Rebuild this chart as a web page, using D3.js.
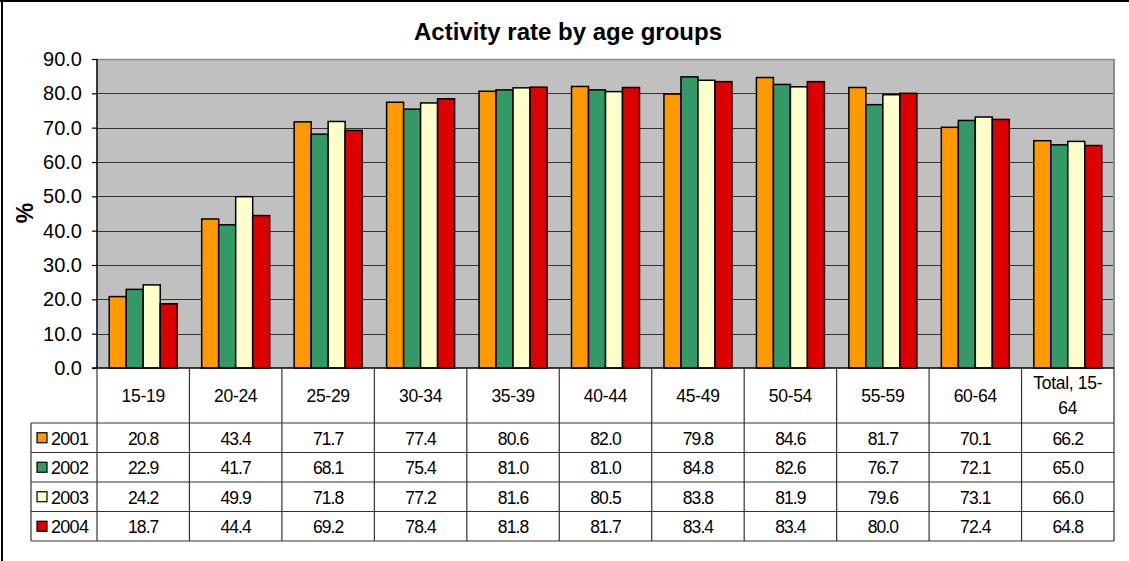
<!DOCTYPE html>
<html><head><meta charset="utf-8">
<script src="https://cdn.jsdelivr.net/npm/d3@7"></script>
<style>
html,body{margin:0;padding:0;background:#fff;}
svg{display:block;font-family:Arial,"Liberation Sans",sans-serif;}
</style></head>
<body>
<svg id="c" width="1129" height="561"></svg>
<script>
const categories = ["15-19","20-24","25-29","30-34","35-39","40-44","45-49","50-54","55-59","60-64","Total, 15-64"];
const headerLines = [["15-19"],["20-24"],["25-29"],["30-34"],["35-39"],["40-44"],["45-49"],["50-54"],["55-59"],["60-64"],["Total, 15-","64"]];
const seriesNames = ["2001","2002","2003","2004"];
const v2001 = [20.8,43.4,71.7,77.4,80.6,82.0,79.8,84.6,81.7,70.1,66.2];
const v2002 = [22.9,41.7,68.1,75.4,81.0,81.0,84.8,82.6,76.7,72.1,65.0];
const v2003 = [24.2,49.9,71.8,77.2,81.6,80.5,83.8,81.9,79.6,73.1,66.0];
const v2004 = [18.7,44.4,69.2,78.4,81.8,81.7,83.4,83.4,80.0,72.4,64.8];
const seriesValues = [v2001,v2002,v2003,v2004];
const colors = ["#FF9900","#339966","#FFFFCC","#DD0000"];
const yTicks = [0,10,20,30,40,50,60,70,80,90];

const svg = d3.select("#c");
const L=97, R=1114, T=59, B=368;
const tableLeft=31, headerBottom=423, tableBottom=541;

// outer frame
svg.append("line").attr("x1",0).attr("x2",1129).attr("y1",1).attr("y2",1).attr("stroke","#000").attr("stroke-width",2);
svg.append("line").attr("x1",2).attr("x2",2).attr("y1",0).attr("y2",561).attr("stroke","#000").attr("stroke-width",2);

const x = d3.scaleBand().domain(categories).range([L,R]).padding(0);
const xs = d3.scaleBand().domain(seriesNames).range([0,x.bandwidth()]).paddingOuter(0.72).paddingInner(0);
const y = d3.scaleLinear().domain([0,90]).range([B,T]);

// plot background
svg.append("rect").attr("x",L).attr("y",T).attr("width",R-L).attr("height",B-T).attr("fill","#C0C0C0");
// gridlines
svg.append("g").selectAll("line").data(yTicks.filter(d=>d>0 && d<90)).join("line")
  .attr("x1",L).attr("x2",R).attr("y1",d=>Math.round(y(d))+0.5).attr("y2",d=>Math.round(y(d))+0.5)
  .attr("stroke","#333").attr("stroke-width",1);
// top & right border of plot
svg.append("line").attr("x1",L).attr("x2",R).attr("y1",T+0.5).attr("y2",T+0.5).attr("stroke","#8c8c8c").attr("stroke-width",1.5);
svg.append("line").attr("x1",R).attr("x2",R).attr("y1",T).attr("y2",B).attr("stroke","#8c8c8c").attr("stroke-width",2);

// bars
const g = svg.append("g");
seriesNames.forEach((s,si)=>{
  g.append("g").selectAll("rect").data(categories).join("rect")
    .attr("x",c=>x(c)+xs(s))
    .attr("width",xs.bandwidth())
    .attr("y",(c,i)=>y(seriesValues[si][i]))
    .attr("height",(c,i)=>B-y(seriesValues[si][i]))
    .attr("fill",colors[si]).attr("stroke","#000").attr("stroke-width",1.5);
});

// y axis
const yAxis = d3.axisLeft(y).tickValues(yTicks).tickFormat(d3.format(".1f")).tickSize(5).tickPadding(10);
const ya = svg.append("g").attr("transform",`translate(${L},0)`).call(yAxis);
ya.select(".domain").remove();
ya.selectAll("line").attr("stroke","#000").attr("stroke-width",1.2);
ya.selectAll("text").attr("font-size",20).attr("fill","#000").attr("font-family","Arial, 'Liberation Sans', sans-serif");
svg.append("line").attr("x1",L).attr("x2",L).attr("y1",T).attr("y2",B).attr("stroke","#000").attr("stroke-width",1.5);

// x axis line (bottom)
svg.append("line").attr("x1",L-5).attr("x2",R).attr("y1",B).attr("y2",B).attr("stroke","#000").attr("stroke-width",1.5);

// title
svg.append("text").attr("x",568).attr("y",40).attr("text-anchor","middle").attr("font-size",24).attr("font-weight","bold").text("Activity rate by age groups");
// y label
svg.append("text").attr("transform","translate(33,213) rotate(-90)").attr("text-anchor","middle").attr("font-size",23).attr("font-weight","bold").text("%");

// table
const tcol = "#333";
const tg = svg.append("g");
const bounds = categories.map(c=>x(c)).concat([R]);
tg.selectAll("line.v").data(bounds).join("line")
  .attr("x1",d=>d).attr("x2",d=>d).attr("y1",B).attr("y2",tableBottom)
  .attr("stroke",tcol).attr("stroke-width",1.2);
tg.append("line").attr("x1",tableLeft).attr("x2",tableLeft).attr("y1",headerBottom).attr("y2",tableBottom).attr("stroke",tcol).attr("stroke-width",1.2);
const rowY = d3.scaleBand().domain(seriesNames).range([headerBottom,tableBottom]);
[headerBottom].concat(seriesNames.map(s=>rowY(s)+rowY.bandwidth())).forEach(yy=>{
  tg.append("line").attr("x1",tableLeft).attr("x2",R).attr("y1",yy).attr("y2",yy).attr("stroke",tcol).attr("stroke-width",1.2);
});
// header labels
categories.forEach((c,i)=>{
  const lines = headerLines[i];
  const cx = x(c)+x.bandwidth()/2;
  const cy = (B+headerBottom)/2;
  lines.forEach((t,li)=>{
    tg.append("text").attr("x",cx).attr("y",cy+(li-(lines.length-1)/2)*25).attr("dy","0.35em")
      .attr("text-anchor","middle").attr("font-size",17.5).attr("letter-spacing","-0.3").text(t);
  });
});
// rows
seriesNames.forEach((s,si)=>{
  const cy = rowY(s)+rowY.bandwidth()/2;
  tg.append("rect").attr("x",37).attr("y",cy-5).attr("width",10).attr("height",10)
    .attr("fill",colors[si]).attr("stroke","#000").attr("stroke-width",1.2);
  tg.append("text").attr("x",51).attr("y",cy).attr("dy","0.4em").attr("font-size",18).attr("letter-spacing","-0.7").text(s);
  categories.forEach((c,i)=>{
    tg.append("text").attr("x",x(c)+x.bandwidth()/2).attr("y",cy).attr("dy","0.4em")
      .attr("text-anchor","middle").attr("font-size",17.5).attr("letter-spacing","-0.9")
      .text(seriesValues[si][i].toFixed(1));
  });
});
</script>
</body></html>
